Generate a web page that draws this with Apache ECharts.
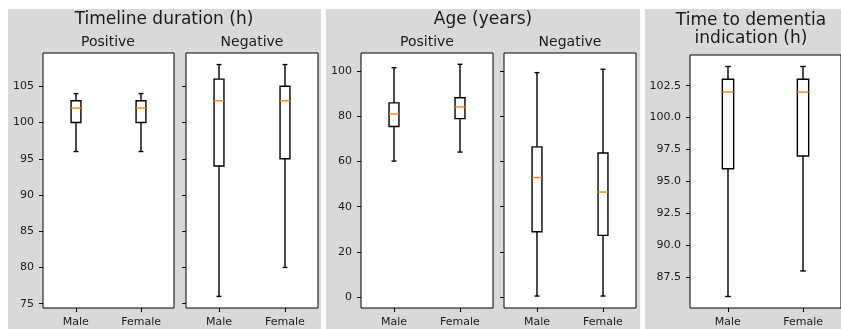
<!DOCTYPE html>
<html>
<head>
<meta charset="utf-8">
<script src="https://cdn.jsdelivr.net/npm/echarts@6/dist/echarts.min.js"></script>
<style>
html,body{margin:0;padding:0;background:#fff;}
#chart{width:841px;height:329px;}
</style>
</head>
<body>
<div id="chart"></div>
<script>
// ---- data ----
const categories = ['Male', 'Female'];
// each entry: [lower whisker, Q1, median, Q3, upper whisker]
const timelinePositive = [[96, 100, 102, 103, 104], [96, 100, 102, 103, 104]];
const timelineNegative = [[76, 94, 103, 106, 108], [80, 95, 103, 105, 108]];
const agePositive = [[60.2, 75.5, 81.1, 86.0, 101.6], [64.2, 79.0, 84.2, 88.3, 103.1]];
const ageNegative = [[0.4, 28.9, 52.9, 66.5, 99.4], [0.4, 27.3, 46.5, 63.8, 100.9]];
const dementiaTime = [[86, 96, 102, 103, 104], [88, 97, 102, 103, 104]];

const panelTitles = ['Timeline duration (h)', 'Age (years)', 'Time to dementia\nindication (h)'];
const subTitles = ['Positive', 'Negative'];

const timelineTicks = [75, 80, 85, 90, 95, 100, 105];
const ageTicks = [0, 20, 40, 60, 80, 100];
const dementiaTicks = [87.5, 90.0, 92.5, 95.0, 97.5, 100.0, 102.5];

// ---- layout ----
const FONT = 'DejaVu Sans';
const TXT = '#1a1a1a';
const LW = 1.4;
const grids = [
  {left: 43, top: 53, width: 131, height: 255},
  {left: 186, top: 53, width: 132, height: 255},
  {left: 361, top: 53, width: 132, height: 255},
  {left: 504, top: 53, width: 132, height: 255},
  {left: 690, top: 55, width: 161, height: 253}
];
const yRanges = [
  {min: 74.4, max: 109.6, ticks: timelineTicks, labels: true, fmt: v => String(v)},
  {min: 74.4, max: 109.6, ticks: timelineTicks, labels: false, fmt: v => String(v)},
  {min: -4.9, max: 108.1, ticks: ageTicks, labels: true, fmt: v => String(v)},
  {min: -4.9, max: 108.1, ticks: ageTicks, labels: false, fmt: v => String(v)},
  {min: 85.1, max: 104.9, ticks: dementiaTicks, labels: true, fmt: v => Number(v).toFixed(1)}
];
const datasets = [timelinePositive, timelineNegative, agePositive, ageNegative, dementiaTime];

function renderBox(params, api) {
  const c = api.value(0);
  const lo = api.value(1), q1 = api.value(2), med = api.value(3), q3 = api.value(4), hi = api.value(5);
  const band = api.size([1, 0])[0];
  const w = band * 0.15;
  const pLo = api.coord([c, lo]), pQ1 = api.coord([c, q1]), pMed = api.coord([c, med]);
  const pQ3 = api.coord([c, q3]), pHi = api.coord([c, hi]);
  const x = Math.round(pLo[0]);
  const line = (x1, y1, x2, y2, color) => ({
    type: 'line',
    shape: {x1, y1, x2, y2},
    style: {stroke: color || '#000', lineWidth: LW}
  });
  return {
    type: 'group',
    children: [
      line(x, pQ1[1], x, pLo[1]),
      line(x, pQ3[1], x, pHi[1]),
      line(x - w / 4, pLo[1], x + w / 4, pLo[1]),
      line(x - w / 4, pHi[1], x + w / 4, pHi[1]),
      {type: 'rect', shape: {x: x - w / 2, y: pQ3[1], width: w, height: pQ1[1] - pQ3[1]},
        style: {fill: '#fff', stroke: '#000', lineWidth: LW}},
      line(x - w / 2, pMed[1], x + w / 2, pMed[1], '#ff7f0e')
    ]
  };
}

function txt(x, y, text, size, extra) {
  return {type: 'text', x: x, y: y, style: Object.assign({
    text: text, font: size + 'px "DejaVu Sans"', fill: TXT,
    align: 'center', verticalAlign: 'middle', textAlign: 'center', textVerticalAlign: 'middle'
  }, extra || {})};
}

const option = {
  animation: false,
  backgroundColor: '#fff',
  graphic: [
    {type: 'rect', z: -10, shape: {x: 8, y: 9, width: 313, height: 330}, style: {fill: '#d9d9d9'}},
    {type: 'rect', z: -10, shape: {x: 326, y: 9, width: 314, height: 330}, style: {fill: '#d9d9d9'}},
    {type: 'rect', z: -10, shape: {x: 645, y: 9, width: 200, height: 330}, style: {fill: '#d9d9d9'}},
    txt(164, 20, panelTitles[0], 17),
    txt(483, 20, panelTitles[1], 17),
    txt(751, 30, panelTitles[2], 17, {lineHeight: 18}),
    txt(108, 42, subTitles[0], 14),
    txt(252, 42, subTitles[1], 14),
    txt(427, 42, subTitles[0], 14),
    txt(570, 42, subTitles[1], 14)
  ],
  grid: grids.map(g => Object.assign({show: true, backgroundColor: '#fff', borderColor: '#000', borderWidth: 1, containLabel: false}, g)),
  xAxis: grids.map((g, i) => ({
    type: 'category', gridIndex: i, data: categories,
    axisLine: {show: false, onZero: false},
    axisTick: {show: true, alignWithLabel: true, length: 4, lineStyle: {color: '#000'}},
    axisLabel: {fontFamily: FONT, fontSize: 11, color: TXT, margin: 9},
    splitLine: {show: false}
  })),
  yAxis: yRanges.map((r, i) => ({
    type: 'value', gridIndex: i, min: r.min, max: r.max,
    axisLine: {show: false, onZero: false},
    axisTick: {show: true, length: 4, customValues: r.ticks, lineStyle: {color: '#000'}},
    axisLabel: {show: r.labels, customValues: r.ticks, formatter: r.fmt, fontFamily: FONT, fontSize: 11, color: TXT, margin: 9},
    splitLine: {show: false}
  })),
  series: datasets.map((d, i) => ({
    type: 'custom', xAxisIndex: i, yAxisIndex: i,
    renderItem: renderBox,
    encode: {x: 0, y: [1, 2, 3, 4, 5]},
    data: d.map((v, k) => [k].concat(v))
  }))
};

const chart = echarts.init(document.getElementById('chart'), null, {renderer: 'canvas'});
chart.setOption(option);
</script>
</body>
</html>
